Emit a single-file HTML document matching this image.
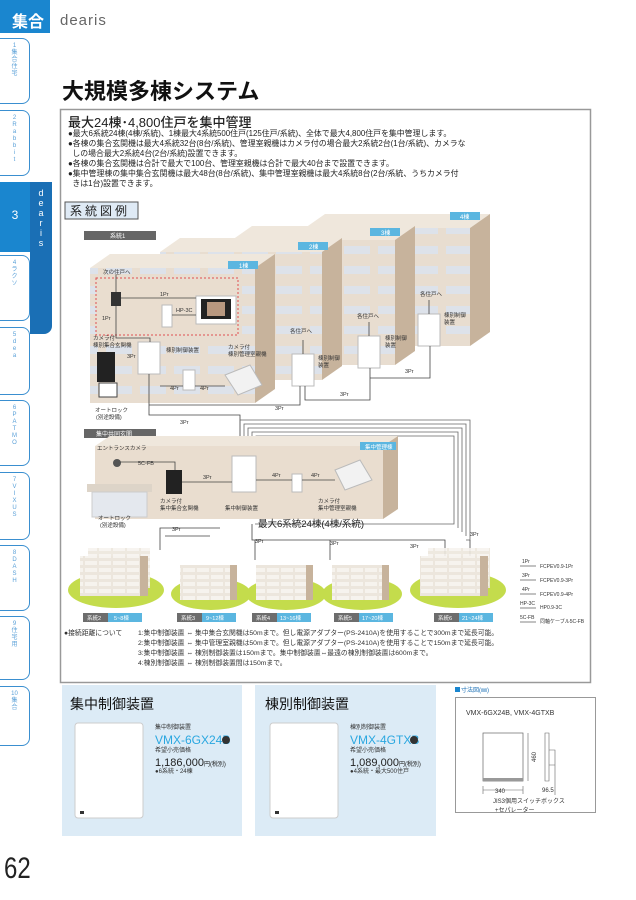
<!DOCTYPE html>
<html><head><meta charset="utf-8"><style>
*{margin:0;padding:0;box-sizing:border-box}
body{width:636px;height:900px;background:#fff;position:relative;overflow:hidden;font-family:"Liberation Sans","Noto Sans CJK JP",sans-serif;color:#222}
.a{position:absolute}
.tab{position:absolute;left:0;width:30px;border:1.5px solid #3a8fd0;border-left:none;border-radius:0 8px 8px 0;background:#fff;color:#5aa0d8;font-size:6px;text-align:center;line-height:7px;padding-top:4px}
.bul{font-size:7.9px;line-height:10px;white-space:nowrap}
</style></head><body>
<div class="a" style="left:0;top:0;width:50px;height:33px;background:#1a86cf;color:#fff;font-size:16px;font-weight:bold;text-align:right;padding:8px 6px 0 0">集合</div>
<div class="a" style="left:60px;top:12px;font-size:15px;color:#666;letter-spacing:1px">dearis</div>

<div class="tab" style="top:38px;height:66px">1<br>集<br>合<br>住<br>宅</div>
<div class="tab" style="top:110px;height:66px">2<br>R<br>a<br>b<br>b<br>i<br>t</div>
<div class="a" style="left:30px;top:182px;width:22px;height:152px;background:#1a6fb5;border-radius:0 0 8px 0;color:#fff;font-size:9px;text-align:center;line-height:10px;padding-top:6px">d<br>e<br>a<br>r<br>i<br>s</div>
<div class="a" style="left:0;top:182px;width:30px;height:70px;background:#1a86cf;color:#fff;font-size:12px;text-align:center;padding-top:26px">3</div>
<div class="tab" style="top:255px;height:66px">4<br>ラ<br>ク<br>ソ</div>
<div class="tab" style="top:327px;height:68px">5<br>d<br>e<br>a</div>
<div class="tab" style="top:400px;height:66px">6<br>P<br>A<br>T<br>M<br>O</div>
<div class="tab" style="top:472px;height:68px">7<br>V<br>I<br>X<br>U<br>S</div>
<div class="tab" style="top:545px;height:66px">8<br>D<br>A<br>S<br>H</div>
<div class="tab" style="top:616px;height:64px">9<br>住<br>宅<br>用</div>
<div class="tab" style="top:686px;height:60px">10<br>集<br>合</div>
<div class="a" style="left:4px;top:852px;font-size:30px;color:#222;transform:scaleX(.8);transform-origin:left">62</div>

<div class="a" style="left:62px;top:74px;font-size:22px;font-weight:bold;color:#111">大規模多棟システム</div>

<svg class="a" style="left:0;top:0" width="636" height="900" font-family="Liberation Sans, Noto Sans CJK JP, sans-serif">
<defs>
<pattern id="w" width="34" height="20" patternUnits="userSpaceOnUse"><rect width="34" height="20" fill="#e8ddd0"/><rect x="4" y="6" width="26" height="8" fill="#dde2ea"/></pattern>
<pattern id="w2" width="14" height="7" patternUnits="userSpaceOnUse"><rect width="14" height="7" fill="#ece6dd"/><rect x="1" y="1" width="12" height="4" fill="#f6f3ee"/></pattern>
</defs>
<rect x="60.5" y="109.5" width="530" height="573" fill="none" stroke="#999" stroke-width="1.5"/>
<rect x="65" y="202" width="73" height="17" fill="#dfeaf5" stroke="#555"/>
<text x="70" y="215" font-size="12" fill="#222" letter-spacing="3">系統図例</text>
<rect x="84" y="231" width="72" height="9" fill="#666"/><text x="110" y="238" font-size="6" fill="#fff">系統1</text>

<g>
<polygon points="305,228 325,214 490,214 470,228" fill="#efe7dc"/><rect x="305" y="228" width="165" height="118" fill="url(#w)"/><polygon points="470,228 490,214 490,332 470,346" fill="#c7b39c"/>
<rect x="450" y="212" width="30" height="8" fill="#5bb6e0"/><text x="460" y="219" font-size="6" fill="#fff">4棟</text>
<polygon points="232,240 252,226 415,226 395,240" fill="#efe7dc"/><rect x="232" y="240" width="163" height="125" fill="url(#w)"/><polygon points="395,240 415,226 415,351 395,365" fill="#c7b39c"/>
<rect x="370" y="228" width="30" height="8" fill="#5bb6e0"/><text x="381" y="235" font-size="6" fill="#fff">3棟</text>
<polygon points="160,252 180,238 342,238 322,252" fill="#efe7dc"/><rect x="160" y="252" width="162" height="128" fill="url(#w)"/><polygon points="322,252 342,238 342,366 322,380" fill="#c7b39c"/>
<rect x="298" y="242" width="30" height="8" fill="#5bb6e0"/><text x="309" y="249" font-size="6" fill="#fff">2棟</text>
<polygon points="90,268 110,254 275,254 255,268" fill="#efe7dc"/><rect x="90" y="268" width="165" height="135" fill="url(#w)"/><polygon points="255,268 275,254 275,389 255,403" fill="#c7b39c"/>
<rect x="228" y="261" width="30" height="8" fill="#5bb6e0"/><text x="239" y="268" font-size="6" fill="#fff">1棟</text>
<rect x="96" y="278" width="142" height="57" fill="#e9ddcf" stroke="#e05050" stroke-dasharray="2,2"/>
</g>
<g fill="#fff" stroke="#bbb">
<rect x="111" y="292" width="10" height="14" fill="#333" stroke="none"/>
<rect x="196" y="296" width="40" height="28" fill="#fff"/><rect x="201" y="299" width="30" height="20" fill="#222" stroke="none"/><rect x="207" y="302" width="18" height="14" fill="#b89880" stroke="none"/>
<rect x="162" y="305" width="10" height="22"/>
<rect x="97" y="352" width="18" height="30" fill="#222" stroke="none"/>
<rect x="99" y="383" width="18" height="14" fill="#fff" stroke="#444"/>
<rect x="138" y="342" width="22" height="32"/>
<rect x="183" y="370" width="12" height="20"/>
<polygon points="225,375 250,365 262,385 238,395" fill="#f2f2f2"/>
<rect x="292" y="354" width="22" height="32"/>
<rect x="358" y="336" width="22" height="32"/>
<rect x="418" y="314" width="22" height="32"/>
</g>
<g fill="none" stroke="#444" stroke-width="0.8">
<path d="M116 292V275M121 298H196M172 315H196M116 306V338H150V342M149 374V405H300V386M149 374V415H240V440M160 386H183M195 386H225M305 386V400H370V368M370 368V378H430V346M303 354V340M369 336V322M429 314V300"/>
<path d="M240 440V420H470V540H466" stroke="#666"/>
<path d="M244 450V424H466V536" stroke="#666"/><path d="M248 450V428H462V532" stroke="#666"/><path d="M252 450V432H458V528" stroke="#666"/><path d="M256 450V436H454V524H255" stroke="#666"/>
<path d="M470 540V560M252 524V540H445V565M220 528H160V550M210 536H165M255 540V560M330 540V560"/>
</g>
<g font-size="5.5" fill="#333">
<text x="103" y="274">次の住戸へ</text><text x="160" y="296">1Pr</text><text x="176" y="312">HP-3C</text><text x="102" y="320">1Pr</text>
<text x="93" y="340">カメラ付</text><text x="93" y="347">棟別集合玄関機</text><text x="127" y="358">3Pr</text>
<text x="166" y="352">棟別制御装置</text><text x="228" y="349">カメラ付</text><text x="228" y="356">棟別管理室親機</text>
<text x="170" y="390">4Pr</text><text x="200" y="390">4Pr</text><text x="95" y="412">オートロック</text><text x="96" y="419">(別途設備)</text>
<text x="290" y="333">各住戸へ</text><text x="318" y="360">棟別制御</text><text x="318" y="367">装置</text>
<text x="357" y="318">各住戸へ</text><text x="385" y="340">棟別制御</text><text x="385" y="347">装置</text>
<text x="420" y="296">各住戸へ</text><text x="444" y="317">棟別制御</text><text x="444" y="324">装置</text>
<text x="275" y="410">3Pr</text><text x="340" y="396">3Pr</text><text x="405" y="373">3Pr</text><text x="180" y="424">3Pr</text>
</g>
<rect x="84" y="429" width="72" height="9" fill="#666"/><text x="96" y="436" font-size="6" fill="#fff">集中共同玄関</text>
<polygon points="95,446 110,436 398,436 383,446" fill="#efe7dc"/>
<rect x="95" y="446" width="288" height="73" fill="#e9ddcf"/><polygon points="383,446 398,436 398,509 383,519" fill="#c7b39c"/>
<rect x="87" y="484" width="65" height="8" fill="#ddd4c8"/><rect x="92" y="492" width="55" height="25" fill="#e4e8ee" stroke="#ccc"/>
<rect x="360" y="442" width="36" height="8" fill="#5bb6e0"/><text x="365" y="449" font-size="5.5" fill="#fff">集中管理棟</text>
<rect x="166" y="470" width="16" height="24" fill="#222"/>
<rect x="232" y="456" width="24" height="36" fill="#fff" stroke="#bbb"/>
<rect x="292" y="474" width="10" height="18" fill="#fff" stroke="#bbb"/>
<polygon points="335,470 360,460 372,480 345,490" fill="#f2f2f2" stroke="#bbb"/>
<circle cx="117" cy="463" r="4" fill="#555"/>
<g fill="none" stroke="#444" stroke-width="0.8"><path d="M120 462H175V470M182 482H232M256 480H292M302 480H335"/></g>
<g font-size="5.5" fill="#333">
<text x="97" y="450">エントランスカメラ</text><text x="138" y="465">5C-FB</text><text x="203" y="479">3Pr</text><text x="272" y="477">4Pr</text><text x="311" y="477">4Pr</text>
<text x="160" y="503">カメラ付</text><text x="160" y="510">集中集合玄関機</text><text x="225" y="510">集中制御装置</text><text x="318" y="503">カメラ付</text><text x="318" y="510">集中管理室親機</text>
<text x="98" y="520">オートロック</text><text x="100" y="527">(別途設備)</text>
<text x="172" y="531">3Pr</text><text x="255" y="543">3Pr</text><text x="330" y="545">3Pr</text><text x="410" y="548">3Pr</text><text x="470" y="536">3Pr</text>
</g>
<text x="258" y="527" font-size="9.5" fill="#222">最大6系統24棟(4棟/系統)</text>
<g>
<ellipse cx="116" cy="590" rx="48" ry="18" fill="#c4dc4c"/><rect x="80" y="556" width="62" height="40" fill="url(#w2)"/><rect x="88" y="548" width="62" height="40" fill="url(#w2)" opacity=".9"/><rect x="140" y="556" width="8" height="40" fill="#c7b39c"/>
<ellipse cx="211" cy="594" rx="40" ry="16" fill="#c4dc4c"/><rect x="180" y="565" width="52" height="35" fill="url(#w2)"/><rect x="230" y="565" width="7" height="35" fill="#c7b39c"/>
<ellipse cx="286" cy="594" rx="40" ry="16" fill="#c4dc4c"/><rect x="256" y="565" width="52" height="35" fill="url(#w2)"/><rect x="306" y="565" width="7" height="35" fill="#c7b39c"/>
<ellipse cx="362" cy="594" rx="40" ry="16" fill="#c4dc4c"/><rect x="332" y="565" width="52" height="35" fill="url(#w2)"/><rect x="382" y="565" width="7" height="35" fill="#c7b39c"/>
<ellipse cx="458" cy="590" rx="48" ry="18" fill="#c4dc4c"/><rect x="420" y="556" width="62" height="40" fill="url(#w2)"/><rect x="428" y="548" width="62" height="40" fill="url(#w2)" opacity=".9"/><rect x="480" y="556" width="8" height="40" fill="#c7b39c"/>
</g>
<g font-size="5.5" fill="#fff">
<rect x="83" y="613" width="25" height="9" fill="#6d6d6d"/><rect x="108" y="613" width="34" height="9" fill="#5bb6e0"/><text x="87" y="620">系統2</text><text x="114" y="620">5~8棟</text>
<rect x="177" y="613" width="25" height="9" fill="#6d6d6d"/><rect x="202" y="613" width="34" height="9" fill="#5bb6e0"/><text x="181" y="620">系統3</text><text x="206" y="620">9~12棟</text>
<rect x="252" y="613" width="25" height="9" fill="#6d6d6d"/><rect x="277" y="613" width="34" height="9" fill="#5bb6e0"/><text x="256" y="620">系統4</text><text x="280" y="620">13~16棟</text>
<rect x="334" y="613" width="25" height="9" fill="#6d6d6d"/><rect x="359" y="613" width="34" height="9" fill="#5bb6e0"/><text x="338" y="620">系統5</text><text x="362" y="620">17~20棟</text>
<rect x="434" y="613" width="25" height="9" fill="#6d6d6d"/><rect x="459" y="613" width="34" height="9" fill="#5bb6e0"/><text x="438" y="620">系統6</text><text x="462" y="620">21~24棟</text>
</g>
<g font-size="5" fill="#333" stroke-width=".6">
<text x="522" y="563">1Pr</text><line x1="520" y1="566" x2="536" y2="566" stroke="#333"/><text x="540" y="568">FCPEV0.9-1Pr</text>
<text x="522" y="577">3Pr</text><line x1="520" y1="580" x2="536" y2="580" stroke="#333"/><text x="540" y="582">FCPEV0.9-3Pr</text>
<text x="522" y="591">4Pr</text><line x1="520" y1="594" x2="536" y2="594" stroke="#333"/><text x="540" y="596">FCPEV0.9-4Pr</text>
<text x="520" y="605">HP-3C</text><line x1="520" y1="608" x2="536" y2="608" stroke="#333"/><text x="540" y="609">HP0.9-3C</text>
<text x="520" y="619">5C-FB</text><line x1="520" y1="622" x2="536" y2="622" stroke="#333"/><text x="540" y="623">同軸ケーブル5C-FB</text>
</g>
<g font-size="6.8" fill="#333">
<text x="64" y="635">●接続距離について</text>
<text x="138" y="635">1:集中制御装置 ⇔ 集中集合玄関機は50mまで。但し電源アダプター(PS-2410A)を使用することで300mまで延長可能。</text>
<text x="138" y="645">2:集中制御装置 ⇔ 集中管理室親機は50mまで。但し電源アダプター(PS-2410A)を使用することで150mまで延長可能。</text>
<text x="138" y="655">3:集中制御装置 ⇔ 棟別制御装置は150mまで。集中制御装置⇔最遠の棟別制御装置は600mまで。</text>
<text x="138" y="665">4:棟別制御装置 ⇔ 棟別制御装置間は150mまで。</text>
</g>
<rect x="62" y="685" width="180" height="151" fill="#dcebf6"/>
<rect x="255" y="685" width="181" height="151" fill="#dcebf6"/>
<g fill="#fff" stroke="#ccc"><rect x="75" y="723" width="68" height="95" rx="3"/><rect x="270" y="723" width="68" height="95" rx="3"/></g>
<g fill="#333"><rect x="80" y="811" width="4" height="3"/><rect x="275" y="811" width="4" height="3"/></g>
<text x="70" y="709" font-size="14" fill="#111">集中制御装置</text>
<text x="265" y="709" font-size="14" fill="#111">棟別制御装置</text>
<g font-size="6" fill="#333">
<text x="155" y="729">集中制御装置</text><text x="155" y="752">希望小売価格</text><text x="155" y="773">●6系統・24棟</text>
<text x="350" y="729">棟別制御装置</text><text x="350" y="752">希望小売価格</text><text x="350" y="773">●4系統・最大500住戸</text>
</g>
<text x="155" y="744" font-size="12" fill="#2aa7e0">VMX-6GX24B</text><circle cx="226" cy="740" r="4" fill="#333"/>
<text x="350" y="744" font-size="12" fill="#2aa7e0">VMX-4GTXB</text><circle cx="414" cy="740" r="4" fill="#333"/>
<text x="155" y="766" font-size="11" fill="#222">1,186,000<tspan font-size="6">円(税別)</tspan></text>
<text x="350" y="766" font-size="11" fill="#222">1,089,000<tspan font-size="6">円(税別)</tspan></text>
<rect x="455" y="687" width="5" height="5" fill="#1a86cf"/><text x="461" y="692" font-size="6" fill="#1a6fb5">寸法図(㎜)</text>
<rect x="455.5" y="697.5" width="140" height="115" fill="none" stroke="#999"/>
<text x="466" y="715" font-size="7" fill="#333">VMX-6GX24B, VMX-4GTXB</text>
<rect x="483" y="733" width="40" height="48" fill="#fff" stroke="#666" stroke-width=".7"/><rect x="483" y="778" width="40" height="3" fill="#999"/>
<g stroke="#666" stroke-width=".6" fill="none"><path d="M528 733V781M483 786V794M523 786V794M483 790H523M545 733V781H549V733ZM549 750H555V765H549M555 760V795"/></g>
<g font-size="6" fill="#333"><text x="495" y="793">340</text><text x="528" y="760" transform="rotate(-90 533 757)">460</text><text x="542" y="792">96.5</text>
<text x="493" y="803">JIS3個用スイッチボックス</text><text x="495" y="812">+セパレーター</text></g>
</svg>

<div class="a" style="left:68px;top:112px;font-size:13px;font-weight:500">最大24棟･4,800住戸を集中管理</div>
<div class="a bul" style="left:68px;top:129px">●最大6系統24棟(4棟/系統)、1棟最大4系統500住戸(125住戸/系統)、全体で最大4,800住戸を集中管理します。<br>●各棟の集合玄関機は最大4系統32台(8台/系統)、管理室親機はカメラ付の場合最大2系統2台(1台/系統)、カメラな<br>&nbsp;&nbsp;しの場合最大2系統4台(2台/系統)設置できます。<br>●各棟の集合玄関機は合計で最大で100台、管理室親機は合計で最大40台まで設置できます。<br>●集中管理棟の集中集合玄関機は最大48台(8台/系統)、集中管理室親機は最大4系統8台(2台/系統、うちカメラ付<br>&nbsp;&nbsp;きは1台)設置できます。</div>
</body></html>
